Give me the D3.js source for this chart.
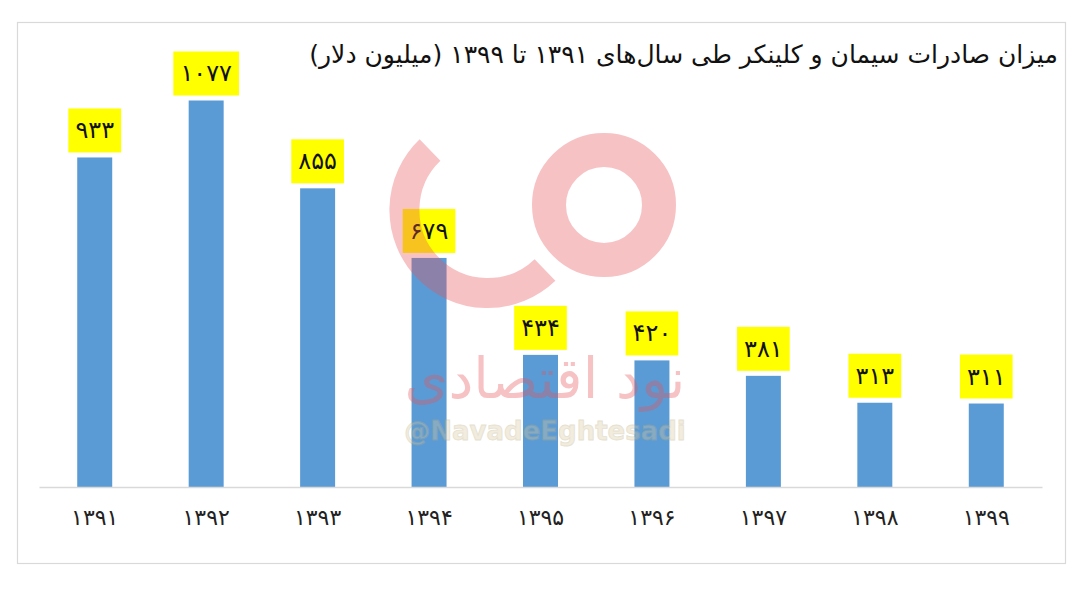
<!DOCTYPE html>
<html>
<head>
<meta charset="utf-8">
<script src="https://cdn.jsdelivr.net/npm/d3@7"></script>
<style>
  html, body { margin: 0; padding: 0; background: #ffffff; }
  svg { display: block; }
</style>
</head>
<body>
<svg id="chart" width="1080" height="594"></svg>
<script>
const categories = ["۱۳۹۱", "۱۳۹۲", "۱۳۹۳", "۱۳۹۴", "۱۳۹۵", "۱۳۹۶", "۱۳۹۷", "۱۳۹۸", "۱۳۹۹"];
const values = [933, 1077, 855, 679, 434, 420, 381, 313, 311];
const valueLabels = ["۹۳۳", "۱۰۷۷", "۸۵۵", "۶۷۹", "۴۳۴", "۴۲۰", "۳۸۱", "۳۱۳", "۳۱۱"];
const titleText = "میزان صادرات سیمان و کلینکر طی سال‌های ۱۳۹۱ تا ۱۳۹۹ (میلیون دلار)";
const yDomain = [100, 1200];

const svg = d3.select("#chart");
const baseY = 487;
const fontFa = "'DejaVu Sans', 'Noto Sans', sans-serif";

// frame
svg.append("rect")
  .attr("x", 17.5).attr("y", 22.5)
  .attr("width", 1048).attr("height", 541)
  .attr("fill", "#ffffff").attr("stroke", "#d9d9d9").attr("stroke-width", 1.2);

const x = d3.scaleBand()
  .domain(categories)
  .range([39, 1042])
  .paddingInner(0.686)
  .paddingOuter(0.343);

const y = d3.scaleLinear()
  .domain(yDomain)
  .range([baseY, baseY - (yDomain[1] - yDomain[0]) * 0.3956]);

// title
svg.append("text")
  .attr("x", 1058).attr("y", 63)
  .attr("text-anchor", "start")
  .attr("direction", "rtl")
  .attr("font-family", fontFa)
  .attr("font-size", 25)
  .attr("fill", "#111")
  .text(titleText);

// bars
const data = categories.map((c, i) => ({ c, v: values[i], lab: valueLabels[i] }));

svg.append("g").selectAll("rect")
  .data(data).join("rect")
  .attr("x", d => x(d.c))
  .attr("y", d => y(d.v))
  .attr("width", x.bandwidth())
  .attr("height", d => y(yDomain[0]) - y(d.v))
  .attr("fill", "#5b9bd5");

// axis
const xAxis = d3.axisBottom(x).tickSize(0).tickPadding(22);
const gx = svg.append("g").attr("transform", `translate(0,${baseY})`).call(xAxis);
gx.select(".domain").attr("stroke", "#d9d9d9").attr("stroke-width", 1.5);
gx.selectAll(".tick text")
  .attr("font-family", fontFa)
  .attr("font-size", 22)
  .attr("fill", "#222");

// value labels
const lg = svg.append("g");
data.forEach(d => {
  const cx = x(d.c) + x.bandwidth() / 2;
  const g = lg.append("g");
  const t = g.append("text")
    .attr("x", cx)
    .attr("y", y(d.v) - 19)
    .attr("text-anchor", "middle")
    .attr("font-family", fontFa)
    .attr("font-size", 24)
    .attr("fill", "#111")
    .text(d.lab);
  const bb = t.node().getBBox();
  const bw = Math.max(52, bb.width + 14);
  g.insert("rect", "text")
    .attr("x", cx - bw / 2)
    .attr("y", y(d.v) - 49)
    .attr("width", bw)
    .attr("height", 44)
    .attr("fill", "#ffff00");
});

// watermark
const wm = svg.append("g").attr("opacity", 0.35).attr("pointer-events", "none");
wm.append("circle").attr("cx", 604).attr("cy", 205).attr("r", 55)
  .attr("fill", "none").attr("stroke", "#e8525a").attr("stroke-width", 34);
wm.append("path")
  .attr("d", "M430,150 A70,70 0 0,0 545,270")
  .attr("fill", "none").attr("stroke", "#e8525a").attr("stroke-width", 30);
wm.append("text")
  .attr("x", 545).attr("y", 398)
  .attr("text-anchor", "middle")
  .attr("direction", "rtl")
  .attr("font-family", fontFa)
  .attr("font-size", 56)
  .attr("fill", "#e8525a")
  .text("نود اقتصادی");
wm.append("text")
  .attr("x", 545).attr("y", 440)
  .attr("text-anchor", "middle")
  .attr("font-family", "'DejaVu Sans', sans-serif")
  .attr("font-weight", "bold")
  .attr("font-size", 26)
  .attr("fill", "#d8c9a0")
  .attr("stroke", "#b8a878").attr("stroke-width", 0.8)
  .text("@NavadeEghtesadi");
</script>
</body>
</html>
